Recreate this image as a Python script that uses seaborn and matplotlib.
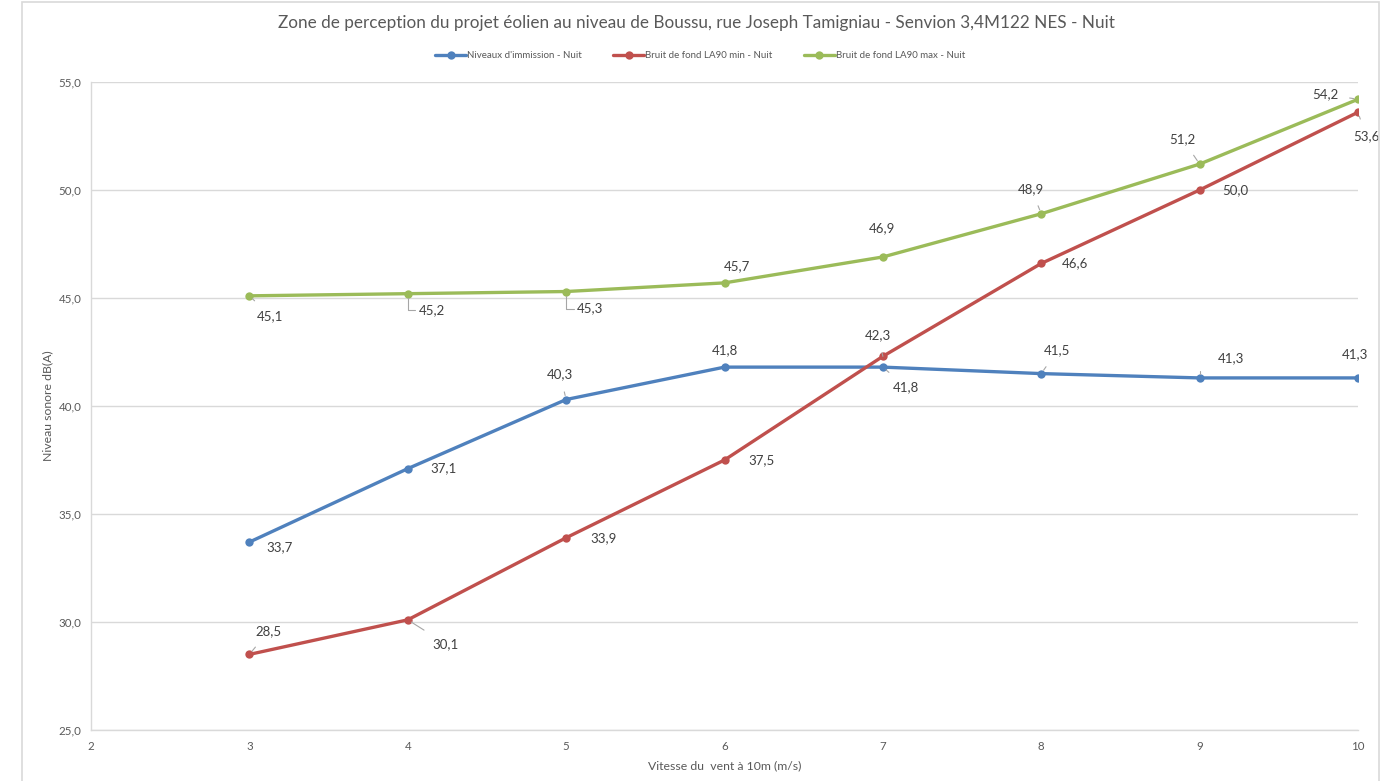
import matplotlib
matplotlib.use("Agg")
import matplotlib.pyplot as plt
from matplotlib.patches import Rectangle
import pandas as pd
import seaborn as sns

# Wind speed at 10 m (m/s)
vitesse = [3, 4, 5, 6, 7, 8, 9, 10]

series_names = [
    "Niveaux d'immission - Nuit",
    "Bruit de fond LA90 min - Nuit",
    "Bruit de fond LA90 max - Nuit",
]
immission = [33.7, 37.1, 40.3, 41.8, 41.8, 41.5, 41.3, 41.3]
la90_min = [28.5, 30.1, 33.9, 37.5, 42.3, 46.6, 50.0, 53.6]
la90_max = [45.1, 45.2, 45.3, 45.7, 46.9, 48.9, 51.2, 54.2]

colors = ["#4F81BD", "#C0504D", "#9BBB59"]

y_ticks = [25, 30, 35, 40, 45, 50, 55]
x_ticks = [2, 3, 4, 5, 6, 7, 8, 9, 10]

# label placement (pixel offsets from the point, leader style)
label_offsets = [
    [(30, -5, None), (36, 0, None), (-6, 25, "line"), (0, 17, None),
     (23, -20, "line"), (16, 23, "line"), (31, 20, "elbow"), (-3, 24, None)],
    [(19, 23, "line"), (38, -24, "line"), (37, 0, None), (37, 0, None),
     (-5, 21, "line"), (34, 0, None), (36, 0, None), (8, -24, "line")],
    [(21, -20, "line"), (24, -16, "elbow"), (24, -17, "elbow"), (12, 17, None),
     (-1, 29, None), (-10, 25, "line"), (-17, 25, "line"), (-33, 5, "line")],
]

sns.set_theme(style="white")
plt.rcParams["font.family"] = ["Lato", "DejaVu Sans"]

values = [immission, la90_min, la90_max]
df = pd.DataFrame({
    "vitesse": vitesse * 3,
    "niveau": immission + la90_min + la90_max,
    "serie": [n for n in series_names for _ in vitesse],
})

fig = plt.figure(figsize=(13.92, 7.81), dpi=100)
ax = fig.add_axes([91 / 1392, 1 - 730 / 781, (1358 - 91) / 1392, (730 - 82) / 781])

sns.lineplot(data=df, x="vitesse", y="niveau", hue="serie", hue_order=series_names,
             palette=colors, marker="o", markersize=6, markeredgewidth=0,
             linewidth=2.4, ax=ax)

ax.set_xlim(2, 10)
ax.set_ylim(25, 55)
ax.set_yticks(y_ticks)
ax.set_yticklabels([f"{v:.1f}".replace(".", ",") for v in y_ticks])
ax.set_xticks(x_ticks)
ax.set_xticklabels([str(v) for v in x_ticks])
ax.tick_params(axis="both", length=0, labelsize=8.3, colors="#595959")
ax.tick_params(axis="y", pad=7)
ax.tick_params(axis="x", pad=8)
ax.yaxis.grid(True, color="#d9d9d9", linewidth=1)
ax.xaxis.grid(False)
for side in ["top", "right"]:
    ax.spines[side].set_visible(False)
for side in ["left", "bottom"]:
    ax.spines[side].set_color("#d9d9d9")
    ax.spines[side].set_linewidth(1)

ax.set_xlabel("Vitesse du  vent à 10m (m/s)", fontsize=8.8, color="#595959", labelpad=6)
ax.set_ylabel("Niveau sonore dB(A)", fontsize=8.8, color="#595959", labelpad=4)

# data labels
for vals, offs in zip(values, label_offsets):
    for x, y, (dx, dy, leader) in zip(vitesse, vals, offs):
        arrow = None
        if leader == "line":
            arrow = dict(arrowstyle="-", color="#a6a6a6", lw=0.8, shrinkA=6, shrinkB=3)
        elif leader == "elbow":
            arrow = dict(arrowstyle="-", color="#a6a6a6", lw=0.8, shrinkA=14, shrinkB=3,
                         connectionstyle="angle,angleA=0,angleB=90,rad=0")
        ax.annotate(f"{y:.1f}".replace(".", ","), xy=(x, y), xytext=(dx, dy),
                    textcoords="offset pixels", ha="center", va="center",
                    fontsize=9.5, color="#404040", arrowprops=arrow, zorder=5)

handles, labels = ax.get_legend_handles_labels()
ax.get_legend().remove()
fig.legend(handles, labels, loc="center", bbox_to_anchor=(0.503, 1 - 56 / 781),
           ncol=3, frameon=False, fontsize=7, handlelength=3.2, columnspacing=3.2,
           handletextpad=0.1, labelcolor="#595959")

fig.text(0.5, 1 - 23 / 781,
         "Zone de perception du projet éolien au niveau de Boussu, rue Joseph Tamigniau - Senvion 3,4M122 NES - Nuit",
         ha="center", va="center", fontsize=12.3, color="#595959")

# chart area frame
fig.patches.append(Rectangle((22 / 1392, -0.05), (1379 - 22) / 1392, 1.05 - 2 / 781,
                             transform=fig.transFigure, fill=False,
                             edgecolor="#d9d9d9", linewidth=1.2))

fig.savefig("out.png", dpi=100)
